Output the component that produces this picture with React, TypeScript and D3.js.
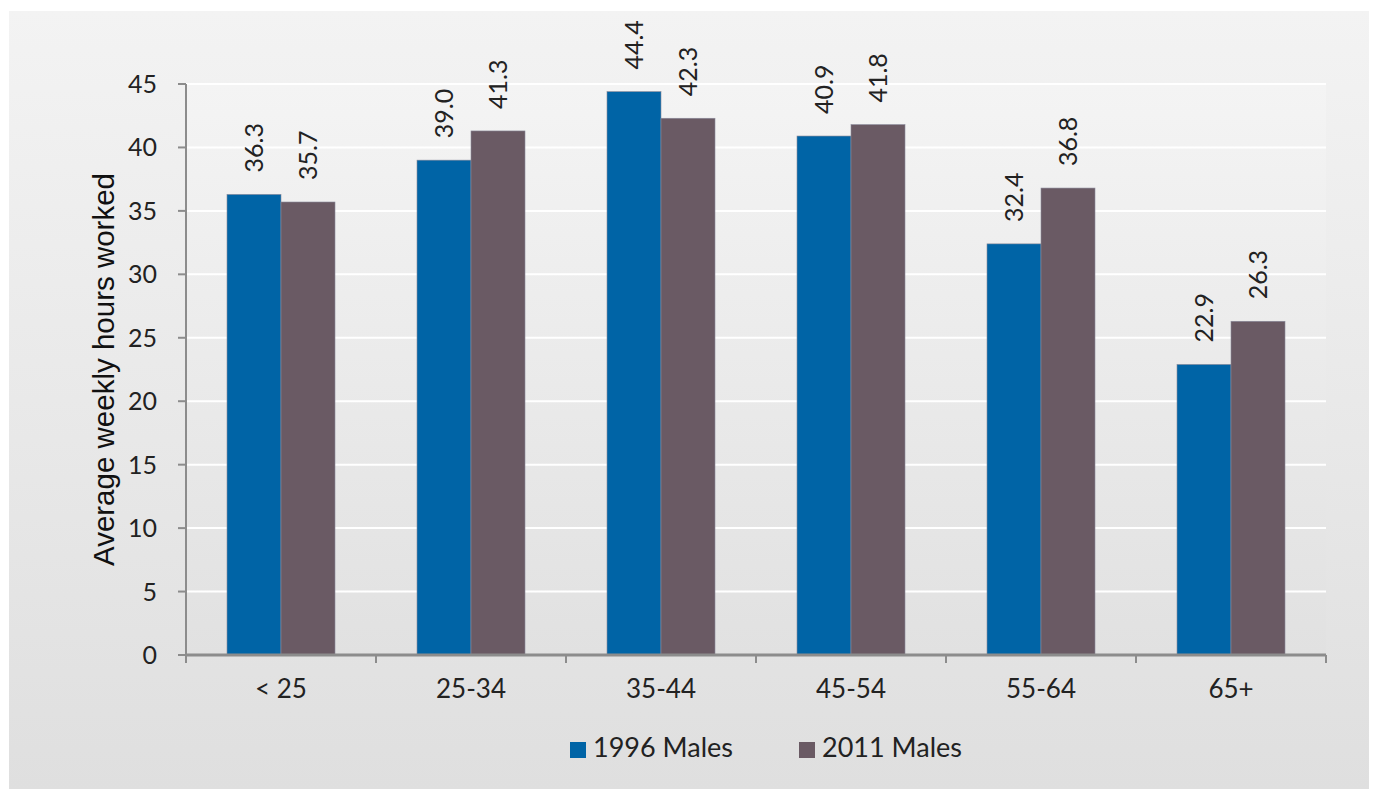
import React from "react";
import * as d3 from "d3";

const categories = ["< 25", "25-34", "35-44", "45-54", "55-64", "65+"];
const males1996 = [36.3, 39.0, 44.4, 40.9, 32.4, 22.9];
const males2011 = [35.7, 41.3, 42.3, 41.8, 36.8, 26.3];
const seriesNames = ["1996 Males", "2011 Males"];
const seriesColors = ["#0064a6", "#6a5a64"];
const yTicks = [0, 5, 10, 15, 20, 25, 30, 35, 40, 45];

const W = 1373;
const H = 789;
const FONT = "Lato, 'Open Sans', sans-serif";

export default function App() {
  const left = 186;
  const right = 1326;
  const top = 84;
  const bottom = 655;

  const x = d3.scaleBand<string>().domain(categories).range([left, right]);
  const inner = d3.scaleBand<number>().domain([0, 1]).range([0, 108]);
  const y = d3.scaleLinear().domain([0, 45]).range([bottom, top]);
  const groupOffset = (x.bandwidth() - 108) / 2;
  const series = [males1996, males2011];

  return (
    <svg
      width={W}
      height={H}
      style={{ position: "absolute", left: 0, top: 0 }}
      fontFamily={FONT}
    >
      <defs>
        <linearGradient id="outerBg" x1="0" y1="0" x2="0" y2="1">
          <stop offset="0" stopColor="#f3f3f3" />
          <stop offset="1" stopColor="#dfdfdf" />
        </linearGradient>
        <linearGradient id="plotBg" x1="0" y1="0" x2="0" y2="1">
          <stop offset="0" stopColor="#f4f4f4" />
          <stop offset="1" stopColor="#e1e1e1" />
        </linearGradient>
      </defs>
      <rect x={0} y={0} width={W} height={H} fill="#ffffff" />
      <rect x={9} y={11} width={1360} height={H - 11} fill="url(#outerBg)" />
      <rect x={left} y={top} width={right - left} height={bottom - top} fill="url(#plotBg)" />

      {/* horizontal gridlines */}
      {yTicks
        .filter((t) => t > 0)
        .map((t) => (
          <line
            key={"g" + t}
            x1={left}
            x2={right}
            y1={y(t)}
            y2={y(t)}
            stroke="#ffffff"
            strokeWidth={2}
          />
        ))}

      {/* bars */}
      {categories.map((c, i) =>
        series.map((vals, s) => {
          const bx = (x(c) as number) + groupOffset + (inner(s) as number);
          return (
            <rect
              key={c + s}
              x={bx}
              y={y(vals[i])}
              width={inner.bandwidth()}
              height={bottom - y(vals[i])}
              fill={seriesColors[s]}
              stroke="#8a8a9a"
              strokeWidth={0.6}
            />
          );
        })
      )}

      {/* value labels, rotated */}
      {categories.map((c, i) =>
        series.map((vals, s) => {
          const cx = (x(c) as number) + groupOffset + (inner(s) as number) + inner.bandwidth() / 2;
          const ly = y(vals[i]) - 22;
          return (
            <text
              key={"l" + c + s}
              transform={`translate(${cx + 9},${ly}) rotate(-90)`}
              fontSize={25}
              fill="#222"
            >
              {vals[i].toFixed(1)}
            </text>
          );
        })
      )}

      {/* y axis */}
      <line x1={left} x2={left} y1={top} y2={bottom} stroke="#8c8c8c" strokeWidth={2} />
      {yTicks.map((t) => (
        <g key={"yt" + t}>
          <line x1={left - 8} x2={left} y1={y(t)} y2={y(t)} stroke="#8c8c8c" strokeWidth={2} />
          <text
            x={157}
            y={y(t)}
            dy="0.36em"
            textAnchor="end"
            fontSize={25}
            fill="#222"
          >
            {t}
          </text>
        </g>
      ))}

      {/* x axis */}
      <line x1={left} x2={right} y1={bottom} y2={bottom} stroke="#8c8c8c" strokeWidth={3} />
      {[...categories.map((c) => x(c) as number), right].map((tx, i) => (
        <line
          key={"xt" + i}
          x1={tx}
          x2={tx}
          y1={bottom}
          y2={bottom + 8}
          stroke="#8c8c8c"
          strokeWidth={2}
        />
      ))}
      {categories.map((c) => (
        <text
          key={"xl" + c}
          x={(x(c) as number) + x.bandwidth() / 2}
          y={698}
          textAnchor="middle"
          fontSize={26}
          fill="#222"
        >
          {c}
        </text>
      ))}

      {/* y axis title */}
      <text
        transform={`translate(114,${(top + bottom) / 2}) rotate(-90)`}
        textAnchor="middle"
        fontSize={29.5}
        fontFamily="'Liberation Sans', Arial, sans-serif"
        fill="#111"
      >
        Average weekly hours worked
      </text>

      {/* legend */}
      {seriesNames.map((n, s) => {
        const lx = s === 0 ? 570 : 799;
        return (
          <g key={"lg" + n}>
            <rect x={lx} y={742} width={16} height={16} fill={seriesColors[s]} />
            <text x={lx + 23} y={757} fontSize={27} fill="#222">
              {n}
            </text>
          </g>
        );
      })}
    </svg>
  );
}
